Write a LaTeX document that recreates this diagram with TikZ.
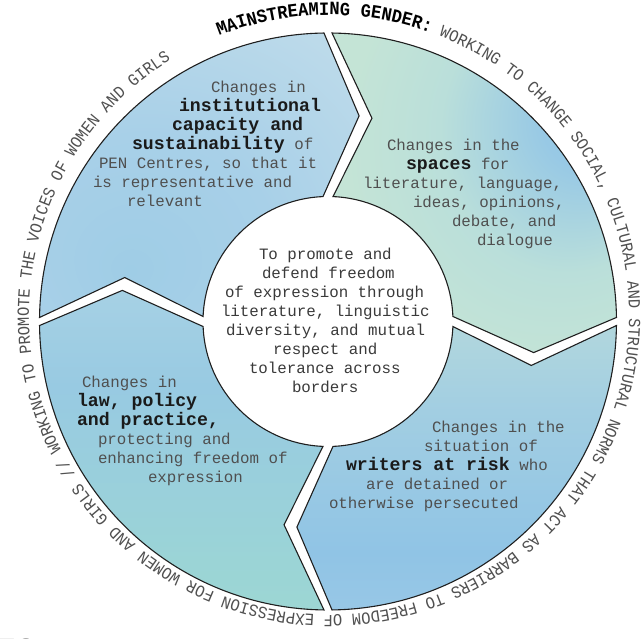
\documentclass[tikz,border=0pt]{standalone}
\usepackage{fontspec}
\setmonofont{Liberation Mono}
\newfontfamily\ringfont[FakeStretch=0.91]{Liberation Mono}
\usetikzlibrary{decorations.text}
\definecolor{txtgray}{HTML}{4F4F4F}
\definecolor{boldc}{HTML}{1A1A1A}
\definecolor{ctrgray}{HTML}{3A3A3A}
\definecolor{ringgray}{HTML}{505050}
\definecolor{ulA}{HTML}{9FCDE6}
\definecolor{ulB}{HTML}{A8D0E8}
\definecolor{ulC}{HTML}{BCDAEA}
\definecolor{ulD}{HTML}{C6E1E2}
\definecolor{urA}{HTML}{8EC4E6}
\definecolor{urB}{HTML}{98C9E5}
\definecolor{urC}{HTML}{BADFDA}
\definecolor{urD}{HTML}{C4E4D6}
\definecolor{lrA}{HTML}{AACFE9}
\definecolor{lrB}{HTML}{90C4E5}
\definecolor{lrC}{HTML}{A2CEE2}
\definecolor{lrD}{HTML}{CBE6D5}
\definecolor{llA}{HTML}{A8DDCF}
\definecolor{llB}{HTML}{9BD5D5}
\definecolor{llC}{HTML}{98CAE2}
\definecolor{llD}{HTML}{B0D6E6}
\definecolor{llE}{HTML}{C4E1E8}
\pgfdeclareradialshading{ulsh}{\pgfpoint{-11bp}{-17bp}}{color(0bp)=(ulA); color(20bp)=(ulB); color(40bp)=(ulC); color(55bp)=(ulD); color(80bp)=(ulD)}
\pgfdeclareradialshading{ursh}{\pgfpoint{22bp}{13bp}}{color(0bp)=(urA); color(8bp)=(urB); color(22bp)=(urC); color(35bp)=(urD); color(80bp)=(urD)}
\pgfdeclareverticalshading{lrsh}{100bp}{color(0bp)=(lrA); color(35bp)=(lrB); color(60bp)=(lrC); color(100bp)=(lrD)}
\pgfdeclareverticalshading{llsh}{100bp}{color(0bp)=(llA); color(30bp)=(llB); color(60bp)=(llC); color(85bp)=(llD); color(100bp)=(llE)}
\newcommand\bb[1]{{\fontsize{18.2pt}{19pt}\selectfont\bfseries\color{boldc}#1}}
\newcommand\ringR{\ringfont\fontsize{17pt}{17pt}\selectfont\mdseries\color{ringgray}}
\newcommand\ringB{\ringfont\fontsize{18.8pt}{18.8pt}\selectfont\bfseries\color{black}}
\newcommand\tline[4]{\node[txt] (#1) at (#2,639-#3) {#4};}
\newcommand\ctrline[4]{\node[ctr] (#1) at (#2,639-#3) {#4};}
\begin{document}
\begin{tikzpicture}[x=1pt,y=1pt,
  seg/.style={draw=black!88, line width=1.1pt},
  txt/.style={inner sep=0pt, outer sep=0pt, anchor=base west, text=txtgray,
    font=\fontsize{15.8pt}{19pt}\selectfont\ttfamily},
  ctr/.style={txt, text=ctrgray}]
\useasboundingbox (0,0) rectangle (643,639);
\fill[white] (0,0) rectangle (643,639);
\begin{scope}[shift={(328,317.5)}]
  % upper left
  \shadedraw[seg, shading=ulsh] (179.2:288.5pt) arc[start angle=179.2, end angle=90.8, radius=288.5pt]
    -- (81.4:208pt) -- (92.3:125pt) arc[start angle=92.3, end angle=177.7, radius=125pt]
    -- (167.8:208pt) -- cycle;
  % upper right
  \shadedraw[seg, shading=ursh] (89.2:288.5pt) arc[start angle=89.2, end angle=0.8, radius=288.5pt]
    -- (-8.6:208pt) -- (2.3:125pt) arc[start angle=2.3, end angle=87.7, radius=125pt]
    -- (77.8:208pt) -- cycle;
  % lower right
  \shadedraw[seg, shading=lrsh] (-0.8:288.5pt) arc[start angle=-0.8, end angle=-89.2, radius=288.5pt]
    -- (-98.6:208pt) -- (-87.7:125pt) arc[start angle=-87.7, end angle=-2.3, radius=125pt]
    -- (-12.2:208pt) -- cycle;
  % lower left
  \shadedraw[seg, shading=llsh] (-90.8:288.5pt) arc[start angle=-90.8, end angle=-179.2, radius=288.5pt]
    -- (-188.6:208pt) -- (-177.7:125pt) arc[start angle=-177.7, end angle=-92.3, radius=125pt]
    -- (-102.2:208pt) -- cycle;
\end{scope}
% ring text
\begin{scope}[shift={(329,324)}]
  \path[decorate, decoration={text along path, text align=left,
    text={|\ringB|MAINSTREAMING GENDER:|\ringR| WORKING TO CHANGE SOCIAL, CULTURAL AND STRUCTURAL NORMS THAT ACT AS BARRIERS TO FREEDOM OF EXPRESSION FOR WOMEN AND GIRLS // WORKING TO PROMOTE THE VOICES OF WOMEN AND GIRLS}}]
    (111.5:300pt) arc[start angle=111.5, end angle=-245, radius=300pt];
\end{scope}
% upper left text
\tline{ul1}{211}{93}{Changes in}
\tline{ul2}{179}{112}{\bb{institutional}}
\tline{ul3}{172}{131}{\bb{capacity and}}
\tline{ul4}{132}{150}{\bb{sustainability} of}
\tline{ul5}{99}{169}{PEN Centres, so that it}
\tline{ul6}{93}{188}{is representative and}
\tline{ul7}{127}{207}{relevant}
% upper right text
\tline{ur1}{387}{151}{Changes in the}
\tline{ur2}{406}{170}{\bb{spaces} for}
\tline{ur3}{363}{189}{literature, language,}
\tline{ur4}{413}{208}{ideas, opinions,}
\tline{ur5}{452}{227}{debate, and}
\tline{ur6}{477}{246}{dialogue}
% lower right text
\tline{lr1}{432}{433}{Changes in the}
\tline{lr2}{424}{452}{situation of}
\tline{lr3}{346}{471}{\bb{writers at risk} who}
\tline{lr4}{366}{490}{are detained or}
\tline{lr5}{329}{509}{otherwise persecuted}
% lower left text
\tline{ll1}{82}{388}{Changes in}
\tline{ll2}{77}{407}{\bb{law, policy}}
\tline{ll3}{77}{426}{\bb{and practice,}}
\tline{ll4}{98}{445}{protecting and}
\tline{ll5}{98}{464}{enhancing freedom of}
\tline{ll6}{148}{483}{expression}
% centre text
\ctrline{c1}{259}{260}{To promote and}
\ctrline{c2}{262}{279}{defend freedom}
\ctrline{c3}{225}{298}{of expression through}
\ctrline{c4}{221}{317}{literature, linguistic}
\ctrline{c5}{226}{336}{diversity, and mutual}
\ctrline{c6}{273}{355}{respect and}
\ctrline{c7}{249}{374}{tolerance across}
\ctrline{c8}{292}{393}{borders}
% cut-off heading at the bottom
\node[inner sep=0pt, anchor=base west, text=black!80, font=\fontsize{32pt}{32pt}\selectfont\ttfamily] (es) at (-3,-22) {ES};
\end{tikzpicture}
\end{document}
